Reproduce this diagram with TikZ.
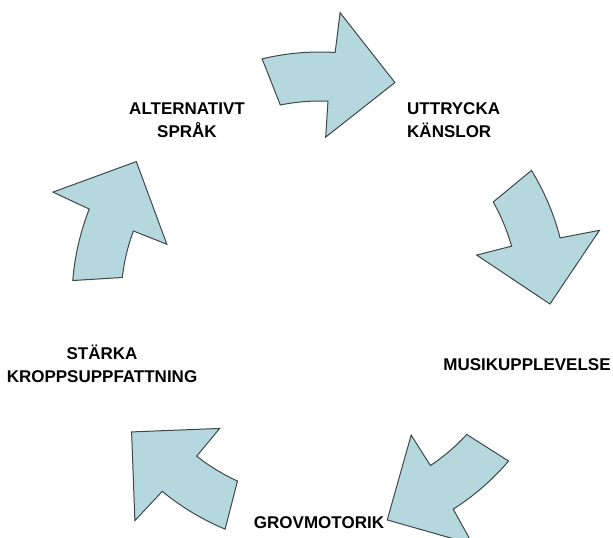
\documentclass[tikz,border=0pt]{standalone}
\usepackage{fontspec}
\setmainfont{Liberation Sans}
\definecolor{pilfarg}{RGB}{180,216,222}
\definecolor{kant}{RGB}{60,72,74}
\begin{document}
\begin{tikzpicture}[x=1pt,y=1pt,
  pil/.style={draw=kant,fill=pilfarg,line width=1pt,line join=miter},
  etikett/.style={font=\bfseries\fontsize{17}{23}\selectfont,inner sep=0pt,align=center}]
  \useasboundingbox (0,0) rectangle (613,538);
  \coordinate (mitt) at (320,238);

  % Pilar runt cirkeln
  \foreach \a in {90,18,-54,-126,162} {
    \draw[pil,shift={(mitt)}] (\a+13.5:248) arc[start angle=\a+13.5,end angle=\a-3.5,radius=248]
      -- (\a-4:288) -- (\a-19:230) -- (\a-2:163) -- (\a-2.3:199)
      arc[start angle=\a-2.3,end angle=\a+11.5,radius=199] -- cycle;
  }

  % Etiketter
  \node[etikett] (alternativt) at (187,418) {ALTERNATIVT\\SPRÅK};
  \node[etikett,anchor=west,align=left] (uttrycka) at (407,418) {UTTRYCKA\\KÄNSLOR};
  \node[etikett] (musik) at (527,173) {MUSIKUPPLEVELSE};
  \node[etikett] (grovmotorik) at (319,15) {GROVMOTORIK};
  \node[etikett] (starka) at (102,174) {STÄRKA\\KROPPSUPPFATTNING};
\end{tikzpicture}
\end{document}
